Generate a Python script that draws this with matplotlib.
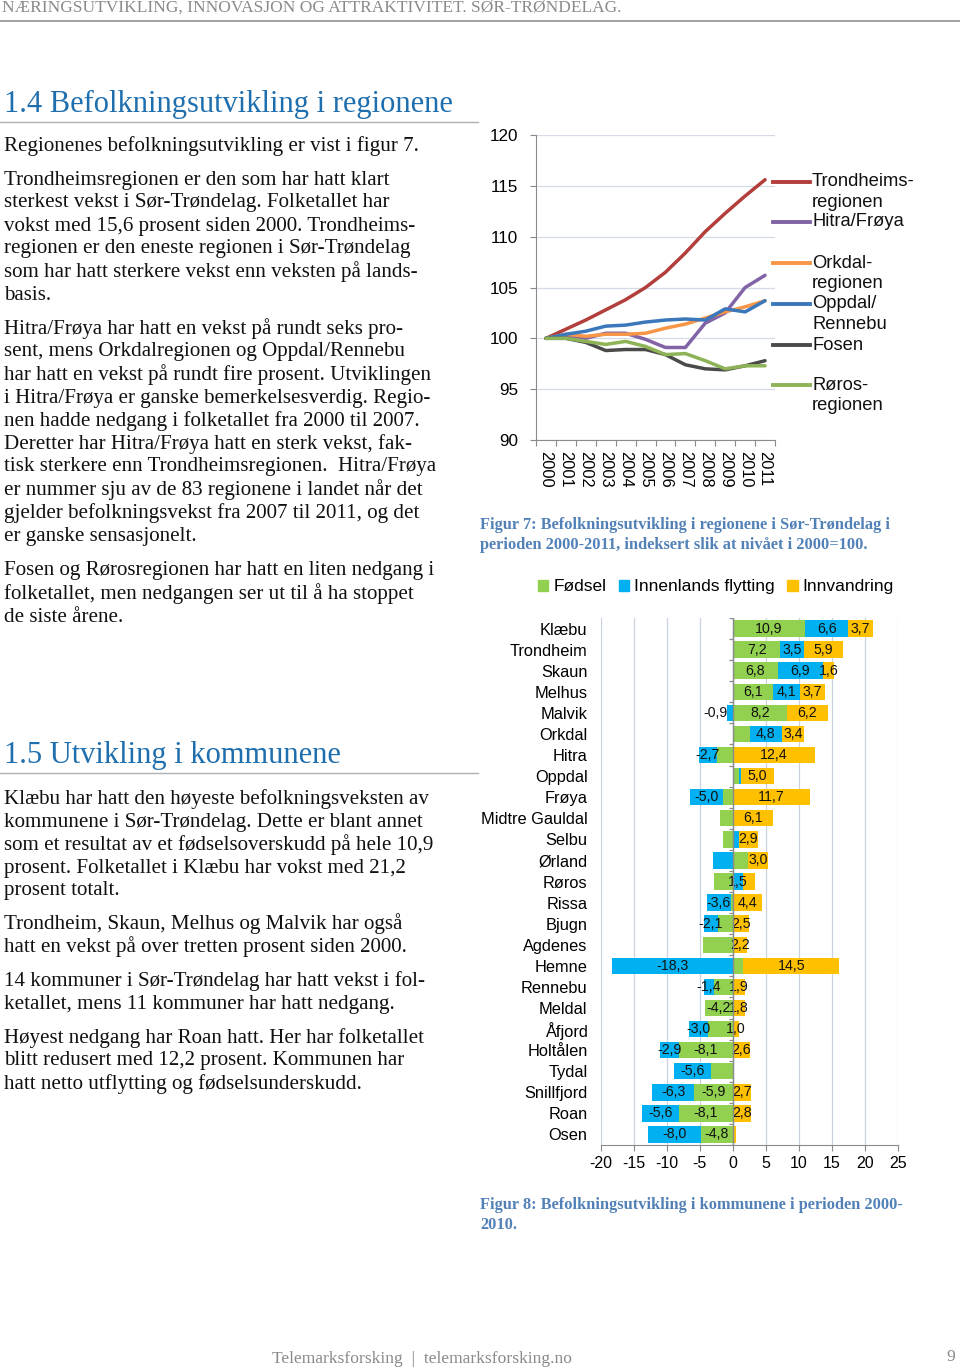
import matplotlib
matplotlib.use("Agg")
import matplotlib.pyplot as plt
from matplotlib.lines import Line2D
from matplotlib.patches import Patch
import numpy as np

plt.rcParams["axes.unicode_minus"] = False

# ---- data: figur 7 (index 2000=100)
years = ["2000", "2001", "2002", "2003", "2004", "2005",
         "2006", "2007", "2008", "2009", "2010", "2011"]
trondheim_reg = [100, 100.9, 101.8, 102.8, 103.8, 105.0, 106.5, 108.4, 110.5, 112.3, 114.0, 115.6]
hitra_froya = [100, 100.3, 100.0, 100.5, 100.5, 99.9, 99.1, 99.1, 101.5, 102.5, 105.0, 106.2]
orkdal_reg = [100, 100.4, 100.2, 100.4, 100.4, 100.5, 101.0, 101.4, 102.0, 102.6, 103.1, 103.7]
oppdal_rennebu = [100, 100.4, 100.7, 101.2, 101.3, 101.6, 101.8, 101.9, 101.8, 102.9, 102.6, 103.7]
fosen = [100, 100.0, 99.6, 98.8, 98.9, 98.9, 98.4, 97.4, 97.0, 96.9, 97.3, 97.8]
roros_reg = [100, 100.0, 99.7, 99.4, 99.7, 99.2, 98.4, 98.5, 97.8, 97.0, 97.3, 97.3]

region_labels = ["Trondheims-\nregionen", "Hitra/Frøya", "Orkdal-\nregionen",
                 "Oppdal/\nRennebu", "Fosen", "Røros-\nregionen"]
region_colors = ["#b23f3b", "#8264a6", "#f79646", "#3b77bb", "#4a4a4a", "#8db356"]

# ---- data: figur 8 (kommuner 2000-2010)
kommuner = ["Klæbu", "Trondheim", "Skaun", "Melhus", "Malvik", "Orkdal", "Hitra",
            "Oppdal", "Frøya", "Midtre Gauldal", "Selbu", "Ørland", "Røros", "Rissa",
            "Bjugn", "Agdenes", "Hemne", "Rennebu", "Meldal", "Åfjord", "Holtålen",
            "Tydal", "Snillfjord", "Roan", "Osen"]
fodsel = [10.9, 7.2, 6.8, 6.1, 8.2, 2.6, -2.4, 0.9, -1.5, -2.0, -1.5, 2.3, -2.8,
          -0.3, -2.3, -4.5, 1.6, -2.9, -4.2, -3.7, -8.1, -3.3, -5.9, -8.1, -4.8]
innenlands = [6.6, 3.5, 6.9, 4.1, -0.9, 4.8, -2.7, 0.3, -5.0, 0.0, 0.9, -3.0, 1.5,
              -3.6, -2.1, 0.0, -18.3, -1.4, 0.0, -3.0, -2.9, -5.6, -6.3, -5.6, -8.0]
innvandring = [3.7, 5.9, 1.6, 3.7, 6.2, 3.4, 12.4, 5.0, 11.7, 6.1, 2.9, 3.0, 1.9,
               4.4, 2.5, 2.2, 14.5, 1.9, 1.8, 1.0, 2.6, 0.0, 2.7, 2.8, 0.5]
# which segments carry a data label in the original
show_fodsel = [1, 1, 1, 1, 1, 0, 0, 0, 0, 0, 0, 0, 0, 0, 0, 0, 0, 0, 1, 0, 1, 0, 1, 1, 1]
show_innenlands = [1, 1, 1, 1, 1, 1, 1, 0, 1, 0, 0, 0, 1, 1, 1, 0, 1, 1, 0, 1, 1, 1, 1, 1, 1]
show_innvandring = [1, 1, 1, 1, 1, 1, 1, 1, 1, 1, 1, 1, 0, 1, 1, 1, 1, 1, 1, 1, 1, 0, 1, 1, 0]
bar_series = ["Fødsel", "Innenlands flytting", "Innvandring"]
bar_colors = ["#92d050", "#00b0f0", "#ffc000"]

W, H = 960, 1369
fig = plt.figure(figsize=(W / 100, H / 100), dpi=100)


def fx(x):
    return x / W


def fy(y):
    return 1 - y / H


SERIF = "Liberation Serif"
SANS = "Liberation Sans"
BODY = 15.1


def hline(x0, x1, y, color="#a0a0a0", lw=1.0):
    fig.add_artist(Line2D([fx(x0), fx(x1)], [fy(y), fy(y)], color=color, lw=lw,
                          transform=fig.transFigure))


def para(x, y0, lines, dy=23, size=BODY, color="#111111", weight="normal"):
    for i, ln in enumerate(lines):
        fig.text(fx(x), fy(y0 + i * dy), ln, family=SERIF, size=size, color=color,
                 va="center", ha="left", fontweight=weight)


# ---- page header / headings / body
fig.text(fx(2), fy(8), "NÆRINGSUTVIKLING, INNOVASJON OG ATTRAKTIVITET. SØR-TRØNDELAG.",
         family=SERIF, size=12.5, color="#8a8a8a", va="center")
hline(0, 960, 21, color="#9a9a9a", lw=1.3)

fig.text(fx(4), fy(104), "1.4 Befolkningsutvikling i regionene", family=SERIF, size=22,
         color="#1f6fae", va="center")
hline(0, 478, 122, color="#b0b0b0")

para(4, 146, ["Regionenes befolkningsutvikling er vist i figur 7."])
para(4, 180, ["Trondheimsregionen er den som har hatt klart",
              "sterkest vekst i Sør-Trøndelag. Folketallet har",
              "vokst med 15,6 prosent siden 2000. Trondheims-",
              "regionen er den eneste regionen i Sør-Trøndelag",
              "som har hatt sterkere vekst enn veksten på lands-",
              "basis."])
para(4, 329, ["Hitra/Frøya har hatt en vekst på rundt seks pro-",
              "sent, mens Orkdalregionen og Oppdal/Rennebu",
              "har hatt en vekst på rundt fire prosent. Utviklingen",
              "i Hitra/Frøya er ganske bemerkelsesverdig. Regio-",
              "nen hadde nedgang i folketallet fra 2000 til 2007.",
              "Deretter har Hitra/Frøya hatt en sterk vekst, fak-",
              "tisk sterkere enn Trondheimsregionen.  Hitra/Frøya",
              "er nummer sju av de 83 regionene i landet når det",
              "gjelder befolkningsvekst fra 2007 til 2011, og det",
              "er ganske sensasjonelt."])
para(4, 571, ["Fosen og Rørosregionen har hatt en liten nedgang i",
              "folketallet, men nedgangen ser ut til å ha stoppet",
              "de siste årene."])

fig.text(fx(4), fy(755), "1.5 Utvikling i kommunene", family=SERIF, size=22,
         color="#1f6fae", va="center")
hline(0, 478, 773, color="#b0b0b0")

para(4, 799, ["Klæbu har hatt den høyeste befolkningsveksten av",
              "kommunene i Sør-Trøndelag. Dette er blant annet",
              "som et resultat av et fødselsoverskudd på hele 10,9",
              "prosent. Folketallet i Klæbu har vokst med 21,2",
              "prosent totalt."])
para(4, 924, ["Trondheim, Skaun, Melhus og Malvik har også",
              "hatt en vekst på over tretten prosent siden 2000."])
para(4, 981, ["14 kommuner i Sør-Trøndelag har hatt vekst i fol-",
              "ketallet, mens 11 kommuner har hatt nedgang."])
para(4, 1038, ["Høyest nedgang har Roan hatt. Her har folketallet",
               "blitt redusert med 12,2 prosent. Kommunen har",
               "hatt netto utflytting og fødselsunderskudd."])

cap_color = "#5281b8"
para(480, 525, ["Figur 7: Befolkningsutvikling i regionene i Sør-Trøndelag i",
                "perioden 2000-2011, indeksert slik at nivået i 2000=100."],
     dy=20, size=11.8, color=cap_color, weight="bold")
para(480, 1205, ["Figur 8: Befolkningsutvikling i kommunene i perioden 2000-",
                 "2010."], dy=20, size=11.8, color=cap_color, weight="bold")

fig.text(fx(422), fy(1359), "Telemarksforsking  |  telemarksforsking.no", family=SERIF,
         size=12.6, color="#8a8a8a", ha="center", va="center")
fig.text(fx(951), fy(1357), "9", family=SERIF, size=12.6, color="#8a8a8a",
         ha="center", va="center")

# ---- figur 7: line chart
ax1 = fig.add_axes([fx(536), fy(440), fx(775) - fx(536), fy(135) - fy(440)])
series = [trondheim_reg, hitra_froya, orkdal_reg, oppdal_rennebu, fosen, roros_reg]
x = np.arange(len(years))
for vals, col in zip(series, region_colors):
    ax1.plot(x, vals, color=col, lw=2.5, solid_capstyle="round")
ax1.set_xlim(-0.5, len(years) - 0.5)
ax1.set_ylim(90, 120)
ax1.set_yticks(range(90, 121, 5))
ax1.grid(axis="y", color="#d5dbe5", lw=0.9)
ax1.set_axisbelow(True)
for s in ["top", "right"]:
    ax1.spines[s].set_visible(False)
for s in ["left", "bottom"]:
    ax1.spines[s].set_color("#8a8a8a")
ax1.set_xticks(np.arange(-0.5, len(years)), labels=[""] * (len(years) + 1))
ax1.set_xticks(x, labels=years, minor=True)
ax1.tick_params(axis="x", which="major", length=4, color="#8a8a8a")
ax1.tick_params(axis="x", which="minor", length=0, pad=8, labelsize=11.8,
                labelrotation=-90)
ax1.tick_params(axis="y", length=4, color="#8a8a8a", pad=9, labelsize=12.3)
for lab in ax1.get_xticklabels(minor=True) + ax1.get_yticklabels():
    lab.set_family(SANS)

# legend to the right of the line chart, marker aligned with the first text line
leg_y = [182, 222, 263, 304, 345, 385]
for ly, lab, col in zip(leg_y, region_labels, region_colors):
    fig.add_artist(Line2D([fx(773), fx(810)], [fy(ly), fy(ly)], color=col, lw=2.8,
                          transform=fig.transFigure))
    for k, part in enumerate(lab.split("\n")):
        fig.text(fx(812), fy(ly + k * 20.5), part, family=SANS, size=13.2, va="center",
                 color="#111111")

# ---- figur 8: stacked bar chart
ax2 = fig.add_axes([fx(600.7), fy(1145), fx(898) - fx(600.7), fy(618) - fy(1145)])
yy = np.arange(len(kommuner))
pos = np.zeros(len(kommuner))
neg = np.zeros(len(kommuner))
masks = [show_fodsel, show_innenlands, show_innvandring]
for vals, col, name, mask in zip([fodsel, innenlands, innvandring], bar_colors,
                                 bar_series, masks):
    vals = np.array(vals)
    left = np.where(vals >= 0, pos, neg)
    ax2.barh(yy, vals, left=left, height=0.78, color=col, label=name, zorder=2)
    for i, v in enumerate(vals):
        if mask[i] and v != 0:
            cx = left[i] + v / 2
            if abs(v) < 1.2 and v < 0:
                cx = left[i] + v - 1.7  # narrow negative segment: label sits outside
            ax2.text(cx, yy[i], f"{v:.1f}".replace(".", ","),
                     ha="center", va="center", family=SANS, size=10.2,
                     color="#111111", zorder=3)
    pos = np.where(vals >= 0, pos + vals, pos)
    neg = np.where(vals < 0, neg + vals, neg)

ax2.set_xlim(-20, 25)
ax2.set_ylim(len(kommuner) - 0.5, -0.5)
ax2.set_xticks(range(-20, 26, 5))
ax2.set_yticks(yy, labels=kommuner)
ax2.grid(axis="x", color="#c9d2de", lw=0.9, zorder=0)
ax2.set_axisbelow(True)
for s in ["top", "right", "left"]:
    ax2.spines[s].set_visible(False)
ax2.spines["bottom"].set_color("#8a8a8a")
ax2.axvline(0, color="#8a8a8a", lw=1.0, zorder=4)
ax2.hlines(np.arange(-0.5, len(kommuner)), -0.6, 0, color="#8a8a8a", lw=0.9, zorder=4)
ax2.tick_params(axis="y", length=0, pad=9.5, labelsize=11.8)
ax2.tick_params(axis="x", length=4, color="#8a8a8a", pad=4, labelsize=11.5)
for lab in ax2.get_xticklabels() + ax2.get_yticklabels():
    lab.set_family(SANS)

handles = [Patch(color=c) for c in bar_colors]
fig.legend(handles, bar_series, loc="center", bbox_to_anchor=(fx(716), fy(587)),
           ncol=3, frameon=False, handlelength=0.6, handleheight=0.6,
           handletextpad=0.3, columnspacing=0.7, prop={"family": SANS, "size": 12.5})

fig.savefig("out.png", dpi=100)
